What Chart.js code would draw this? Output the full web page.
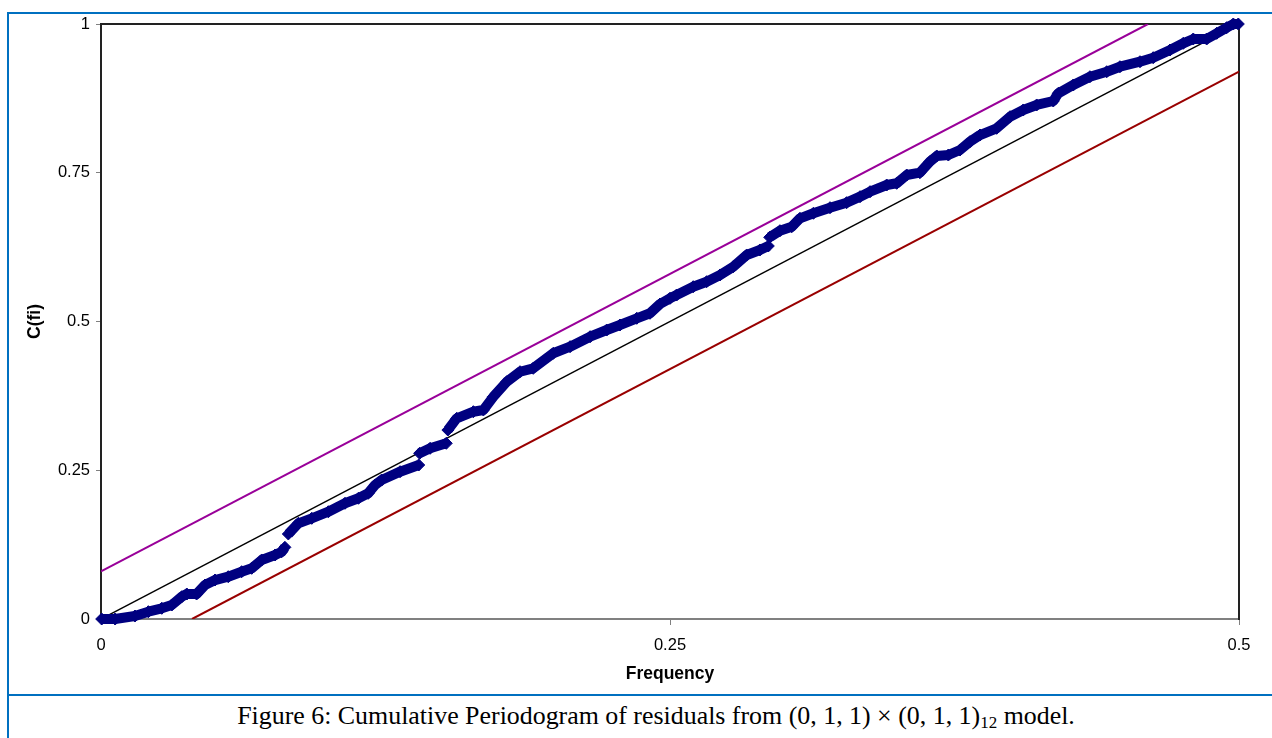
<!DOCTYPE html>
<html>
<head>
<meta charset="utf-8">
<script src="https://cdn.jsdelivr.net/npm/chart.js@4.4.0/dist/chart.umd.min.js"></script>
<style>
  body { margin: 0; background: #fff; width: 1272px; height: 738px; overflow: hidden; position: relative; }
  #box { position: absolute; left: 7px; top: 12px; width: 1298px; height: 760px; border: 2px solid #0070c0; box-sizing: border-box; }
  #sep { position: absolute; left: 7px; top: 694px; width: 1298px; height: 2px; background: #0070c0; }
  #caption { position: absolute; left: 7px; top: 701px; width: 1298px; text-align: center;
    font-family: "Liberation Serif", "Times New Roman", serif; font-size: 25.9px; color: #000; }
  #caption sub { font-size: 17px; vertical-align: -4px; line-height: 0; }
  #wrap { position: absolute; left: 0; top: 0; width: 1272px; height: 738px; }
</style>
</head>
<body>
<div id="box"></div>
<div id="sep"></div>
<div id="caption">Figure 6: Cumulative Periodogram of residuals from (0, 1, 1) × (0, 1, 1)<sub>12</sub> model.</div>
<div id="wrap"><canvas id="chart"></canvas></div>
<script>
// cumulative periodogram, null = gap between points
const freq = [0.0003, 0.0062, 0.0149, 0.0208, 0.0267, 0.0311, 0.0355, 0.0377, 0.0420, 0.0457,
  0.0501, 0.0559, 0.0618, 0.0662, 0.0706, 0.0765, 0.0794, 0.0808, 0.0815,
  0.0823, 0.0867, 0.0926, 0.0999, 0.1072, 0.1131, 0.1174, 0.1204, 0.1233, 0.1314, 0.1396, 0.1398,
  0.1400, 0.1446, 0.1517, 0.1520,
  0.1524, 0.1563, 0.1636, 0.1680, 0.1724, 0.1783, 0.1841, 0.1899, 0.1987, 0.2061,
  0.2149, 0.2222, 0.2280, 0.2354, 0.2412, 0.2456, 0.2500, 0.2529, 0.2602, 0.2661,
  0.2720, 0.2778, 0.2837, 0.2895, 0.2932, 0.2935,
  0.2938, 0.2983, 0.3035, 0.3071, 0.3130, 0.3203, 0.3276, 0.3335, 0.3379, 0.3452,
  0.3496, 0.3540, 0.3598, 0.3642, 0.3672, 0.3723, 0.3774, 0.3818, 0.3862, 0.3935,
  0.3994, 0.4052, 0.4111, 0.4184, 0.4206, 0.4272, 0.4345, 0.4419, 0.4477, 0.4565,
  0.4623, 0.4697, 0.4755, 0.4799, 0.4858, 0.4902, 0.4946, 0.4975, 0.4997]
const cfi = [0, 0, 0.005, 0.0123, 0.018, 0.0235, 0.0375, 0.042, 0.042, 0.0571,
  0.0655, 0.0711, 0.0795, 0.0852, 0.0992, 0.1076, 0.1131, 0.1205, null,
  0.1429, 0.1608, 0.1692, 0.1803, 0.1945, 0.2029, 0.2113, 0.2252, 0.2336, 0.2476, 0.2588, null,
  0.2785, 0.2869, 0.2953, null,
  0.3176, 0.3373, 0.3484, 0.3513, 0.3736, 0.3988, 0.4156, 0.4213, 0.4466, 0.4577,
  0.4745, 0.4857, 0.4941, 0.5054, 0.5138, 0.5294, 0.539, 0.5445, 0.5585, 0.5669,
  0.5782, 0.5921, 0.6118, 0.6202, 0.6269, null,
  0.6415, 0.6526, 0.6593, 0.6734, 0.6819, 0.6913, 0.6997, 0.7098, 0.7182, 0.7294,
  0.7323, 0.7462, 0.7501, 0.7686, 0.7782, 0.7798, 0.7882, 0.8022, 0.8134, 0.8247,
  0.8442, 0.8555, 0.8639, 0.8706, 0.8835, 0.8975, 0.9114, 0.9198, 0.9282, 0.9366,
  0.9434, 0.9563, 0.9676, 0.9748, 0.9748, 0.9844, 0.9938, 1.0, 1.0]

// reference lines
const diagX = [0, 0.5]
const diagY = [0, 1]
const upperX = [0, 0.46]
const upperY = [0.08, 1]
const lowerX = [0.04, 0.5]
const lowerY = [0, 0.92]

const xTicks = [0, 0.25, 0.5]
const yTicks = [0, 0.25, 0.5, 0.75, 1]

function pts(xs, ys) {
    return xs.map((x, i) => ({ x: x, y: ys[i] }))
}

const tickFont = { family: "'Liberation Sans', Arial, sans-serif", size: 16.5 }
const titleFont = { family: "'Liberation Sans', Arial, sans-serif", size: 17.5, weight: "bold" }

new Chart(document.getElementById("chart"), {
    type: "scatter",
    data: {
        datasets: [
            {
                data: pts(freq, cfi),
                showLine: true,
                borderColor: "#000080",
                borderWidth: 10,
                borderJoinStyle: "round",
                pointStyle: "rectRot",
                pointRadius: 6,
                pointBackgroundColor: "#000080",
                pointBorderColor: "#000080",
                pointBorderWidth: 1,
                clip: false
            },
            { data: pts(diagX, diagY), showLine: true, borderColor: "#000000", borderWidth: 1.5, pointRadius: 0 },
            { data: pts(upperX, upperY), showLine: true, borderColor: "#990099", borderWidth: 2, pointRadius: 0 },
            { data: pts(lowerX, lowerY), showLine: true, borderColor: "#990000", borderWidth: 2, pointRadius: 0 }
        ]
    },
    options: {
        responsive: true,
        maintainAspectRatio: false,
        animation: false,
        layout: { padding: { left: 0, right: 33, top: 24, bottom: 0 } },
        plugins: { legend: { display: false }, tooltip: { enabled: false } },
        scales: {
            x: {
                type: "linear", position: "bottom", min: 0, max: 0.5,
                afterBuildTicks: s => { s.ticks = xTicks.map(v => ({ value: v })) },
                afterFit: s => { s.height = 119 },
                grid: { drawOnChartArea: false, tickLength: 6, color: "#808080" },
                border: { color: "#808080", width: 2 },
                ticks: { font: tickFont, color: "#000", padding: 11, maxRotation: 0, callback: v => String(v) },
                title: { display: true, text: "Frequency", font: titleFont, color: "#000", padding: { top: 0, bottom: 53 } }
            },
            y: {
                type: "linear", position: "left", min: 0, max: 1,
                afterBuildTicks: s => { s.ticks = yTicks.map(v => ({ value: v })) },
                afterFit: s => { s.width = 101 },
                grid: { drawOnChartArea: false, tickLength: 5, color: "#808080" },
                border: { color: "#222", width: 2 },
                ticks: { font: tickFont, color: "#000", padding: 6, callback: v => String(v) },
                title: { display: true, text: "C(fi)", font: titleFont, color: "#000", padding: { top: 25, bottom: 0 } }
            },
            x2: {
                type: "linear", position: "top", min: 0, max: 0.5,
                afterFit: s => { s.height = 0 },
                grid: { display: false, drawTicks: false },
                border: { color: "#222", width: 2 },
                ticks: { display: false }
            },
            y2: {
                type: "linear", position: "right", min: 0, max: 1,
                afterFit: s => { s.width = 0 },
                grid: { display: false, drawTicks: false },
                border: { color: "#222", width: 2 },
                ticks: { display: false }
            }
        }
    }
})
</script>
</body>
</html>
